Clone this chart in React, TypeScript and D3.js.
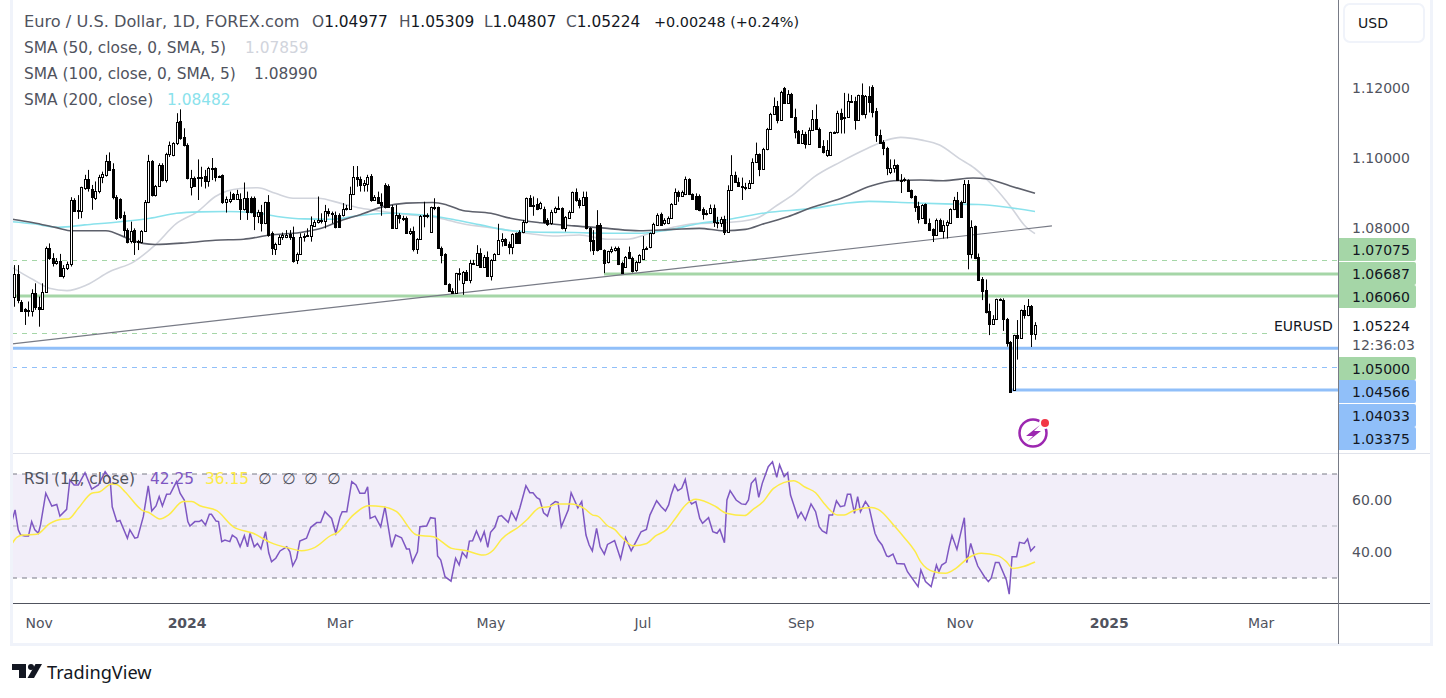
import React from "react";
import * as d3 from "d3";

type Bar = [number, number, number, number];
type Pt = [number, number];

// Daily candles: open, high, low, close
const barsAutumn2023: Bar[] = [
[1.0604,1.0694,1.0575,1.0668],[1.0668,1.0694,1.0585,1.0594],[1.0590,1.0594,1.0561,1.0564],[1.0568,1.0571,1.0523,1.0564],[1.0566,1.0590,1.0547,1.0566],
[1.0564,1.0625,1.0547,1.0613],[1.0613,1.0642,1.0566,1.0575],[1.0575,1.0604,1.0518,1.0568],[1.0568,1.0642,1.0566,1.0618],[1.0618,1.0747,1.0616,1.0744],
[1.0744,1.0756,1.0709,1.0715],[1.0715,1.0728,1.0690,1.0699],[1.0699,1.0714,1.0695,1.0706],[1.0706,1.0726,1.0661,1.0664],[1.0664,1.0694,1.0656,1.0685],
[1.0685,1.0704,1.0680,1.0696],[1.0696,1.0888,1.0690,1.0880],[1.0880,1.0885,1.0847,1.0850],[1.0852,1.0894,1.0826,1.0849],[1.0850,1.0918,1.0828,1.0916],
[1.0913,1.0952,1.0909,1.0939],[1.0939,1.0966,1.0904,1.0913],[1.0912,1.0923,1.0852,1.0888],[1.0885,1.0933,1.0880,1.0906],[1.0906,1.0952,1.0899,1.0947],
[1.0947,1.0961,1.0928,1.0954],[1.0952,1.1009,1.0947,1.0992],[1.0992,1.1016,1.0964,1.0966],[1.0968,1.0985,1.0882,1.0888],[1.0888,1.0894,1.0823,1.0828],
[1.0883,1.0885,1.0826,1.0831],[1.0837,1.0847,1.0775,1.0794],[1.0794,1.0799,1.0756,1.0761],[1.0763,1.0818,1.0756,1.0792],[1.0794,1.0799,1.0723,1.0761],
[1.0761,1.0766,1.0737,1.0763],[1.0761,1.0794,1.0756,1.0792],[1.0792,1.0880,1.0790,1.0873],[1.0873,1.1009,1.0871,1.0992],[1.0992,1.0994,1.0890,1.0893],
[1.0893,1.0923,1.0890,1.0921],[1.0921,1.0985,1.0918,1.0980],[1.0980,1.0985,1.0933,1.0937],[1.0937,1.1015,1.0930,1.1012],[1.1012,1.1047,1.1003,1.1037],
[1.1010,1.1045,1.1005,1.1042],[1.1042,1.1128,1.1037,1.1104],[1.1106,1.1139,1.1052,1.1056],[1.1061,1.1085,1.1033,1.1037],[1.1037,1.1042,1.0939,1.0942],
];
const barsEarly2024: Bar[] = [
[1.0918,1.0966,1.0893,1.0944],[1.0944,1.0947,1.0918,1.0920],[1.0944,1.0996,1.0880,1.0947],[1.0942,1.0975,1.0918,1.0947],[1.0949,1.0966,1.0913,1.0933],
[1.0933,1.0975,1.0918,1.0971],[1.0971,1.1000,1.0937,1.0972],[1.0971,1.0973,1.0933,1.0947],[1.0947,1.0950,1.0943,1.0949],[1.0952,1.0953,1.0869,1.0875],
[1.0873,1.0890,1.0844,1.0882],[1.0876,1.0904,1.0871,1.0882],[1.0896,1.0900,1.0880,1.0883],[1.0882,1.0909,1.0880,1.0896],[1.0883,1.0899,1.0823,1.0853],
[1.0853,1.0930,1.0850,1.0885],[1.0885,1.0904,1.0823,1.0845],[1.0885,1.0890,1.0842,1.0847],[1.0885,1.0890,1.0794,1.0833],[1.0834,1.0852,1.0814,1.0845],
[1.0845,1.0866,1.0790,1.0813],[1.0813,1.0875,1.0811,1.0873],[1.0873,1.0894,1.0775,1.0780],[1.0785,1.0790,1.0723,1.0742],[1.0740,1.0758,1.0723,1.0754],
[1.0754,1.0780,1.0752,1.0773],[1.0773,1.0787,1.0766,1.0780],[1.0775,1.0794,1.0771,1.0780],[1.0783,1.0794,1.0766,1.0775],[1.0773,1.0804,1.0701,1.0706],
[1.0708,1.0730,1.0697,1.0726],[1.0726,1.0785,1.0723,1.0773],[1.0773,1.0785,1.0761,1.0777],[1.0780,1.0799,1.0775,1.0781],[1.0778,1.0833,1.0761,1.0809],
[1.0807,1.0823,1.0804,1.0816],[1.0816,1.0890,1.0813,1.0823],[1.0822,1.0842,1.0813,1.0823],[1.0821,1.0866,1.0799,1.0850],[1.0850,1.0856,1.0833,1.0842],
[1.0839,1.0847,1.0813,1.0842],[1.0837,1.0847,1.0799,1.0804],[1.0837,1.0842,1.0800,1.0804],[1.0837,1.0871,1.0833,1.0853],[1.0853,1.0866,1.0850,1.0856],
[1.0854,1.0918,1.0852,1.0896],[1.0896,1.0977,1.0894,1.0947],[1.0947,1.0977,1.0918,1.0939],
];
const barsSpring2024: Bar[] = [
[1.0939,1.0947,1.0904,1.0923],[1.0923,1.0937,1.0904,1.0928],[1.0926,1.0952,1.0904,1.0947],[1.0949,1.0954,1.0875,1.0880],[1.0880,1.0894,1.0878,1.0888],
[1.0888,1.0904,1.0869,1.0871],[1.0875,1.0899,1.0835,1.0866],[1.0923,1.0928,1.0856,1.0859],[1.0920,1.0925,1.0858,1.0861],[1.0861,1.0866,1.0798,1.0799],
[1.0799,1.0866,1.0797,1.0837],[1.0837,1.0842,1.0813,1.0828],[1.0826,1.0835,1.0820,1.0828],[1.0828,1.0833,1.0785,1.0787],[1.0785,1.0799,1.0780,1.0792],
[1.0792,1.0804,1.0733,1.0739],[1.0739,1.0771,1.0726,1.0768],[1.0768,1.0837,1.0766,1.0835],[1.0835,1.0875,1.0802,1.0836],[1.0836,1.0842,1.0828,1.0835],
[1.0790,1.0861,1.0788,1.0859],[1.0859,1.0885,1.0851,1.0856],[1.0859,1.0861,1.0740,1.0742],[1.0742,1.0747,1.0699,1.0723],[1.0726,1.0728,1.0637,1.0639],
[1.0639,1.0642,1.0618,1.0621],[1.0621,1.0628,1.0612,1.0613],[1.0613,1.0672,1.0612,1.0671],[1.0671,1.0685,1.0650,1.0669],[1.0642,1.0677,1.0609,1.0675],
[1.0675,1.0680,1.0650,1.0652],[1.0652,1.0709,1.0642,1.0699],[1.0699,1.0709,1.0695,1.0700],[1.0695,1.0751,1.0692,1.0728],[1.0728,1.0742,1.0688,1.0690],
[1.0690,1.0723,1.0688,1.0718],[1.0718,1.0733,1.0661,1.0664],[1.0664,1.0711,1.0650,1.0709],[1.0709,1.0728,1.0707,1.0726],[1.0725,1.0812,1.0723,1.0766],
[1.0764,1.0785,1.0747,1.0768],[1.0768,1.0771,1.0749,1.0752],[1.0754,1.0761,1.0725,1.0747],[1.0745,1.0785,1.0725,1.0783],[1.0785,1.0787,1.0756,1.0758],
[1.0790,1.0794,1.0756,1.0758],[1.0788,1.0823,1.0785,1.0818],[1.0816,1.0887,1.0813,1.0885],[1.0885,1.0894,1.0861,1.0864],[1.0864,1.0890,1.0835,1.0865],
];
const barsSummer2024: Bar[] = [
[1.0868,1.0885,1.0851,1.0854],[1.0856,1.0875,1.0853,1.0871],[1.0854,1.0861,1.0813,1.0818],[1.0823,1.0828,1.0806,1.0812],[1.0813,1.0852,1.0809,1.0845],
[1.0845,1.0861,1.0842,1.0856],[1.0856,1.0890,1.0852,1.0857],[1.0856,1.0859,1.0796,1.0799],[1.0799,1.0834,1.0790,1.0832],[1.0830,1.0850,1.0828,1.0847],
[1.0847,1.0904,1.0845,1.0902],[1.0902,1.0913,1.0875,1.0880],[1.0880,1.0885,1.0856,1.0866],[1.0866,1.0904,1.0863,1.0888],[1.0890,1.0904,1.0796,1.0799],
[1.0799,1.0802,1.0733,1.0764],[1.0766,1.0794,1.0723,1.0737],[1.0809,1.0851,1.0733,1.0737],[1.0809,1.0814,1.0737,1.0739],[1.0737,1.0739,1.0671,1.0701],
[1.0702,1.0735,1.0699,1.0733],[1.0735,1.0747,1.0728,1.0739],[1.0737,1.0747,1.0733,1.0742],[1.0744,1.0747,1.0694,1.0697],[1.0701,1.0704,1.0669,1.0671],
[1.0690,1.0720,1.0688,1.0718],[1.0731,1.0747,1.0711,1.0714],[1.0714,1.0718,1.0673,1.0678],[1.0680,1.0706,1.0675,1.0704],[1.0702,1.0725,1.0699,1.0723],
[1.0712,1.0777,1.0709,1.0740],[1.0740,1.0747,1.0737,1.0744],[1.0745,1.0787,1.0742,1.0785],[1.0785,1.0815,1.0782,1.0812],[1.0809,1.0842,1.0806,1.0837],
[1.0840,1.0844,1.0806,1.0809],[1.0813,1.0828,1.0809,1.0823],[1.0813,1.0833,1.0811,1.0828],[1.0828,1.0871,1.0826,1.0869],[1.0869,1.0913,1.0866,1.0904],
[1.0904,1.0907,1.0875,1.0892],[1.0892,1.0907,1.0890,1.0904],[1.0897,1.0947,1.0894,1.0940],[1.0940,1.0942,1.0894,1.0897],[1.0897,1.0899,1.0880,1.0882],
[1.0891,1.0899,1.0851,1.0853],[1.0891,1.0896,1.0848,1.0851],[1.0853,1.0859,1.0824,1.0839],[1.0839,1.0851,1.0836,1.0844],[1.0843,1.0867,1.0840,1.0856],
[1.0856,1.0867,1.0803,1.0818],[1.0818,1.0832,1.0799,1.0813],[1.0813,1.0832,1.0803,1.0825],[1.0825,1.0835,1.0780,1.0789],[1.0789,1.0922,1.0786,1.0908],
[1.0908,1.1008,1.0906,1.0951],[1.0951,1.0961,1.0929,1.0932],[1.0932,1.0944,1.0918,1.0920],[1.0921,1.0944,1.0880,1.0916],[1.0916,1.0929,1.0908,1.0917],
[1.0915,1.0937,1.0912,1.0929],[1.0929,1.0999,1.0927,1.0989],[1.0989,1.1044,1.0986,1.1011],[1.1011,1.1013,1.0948,1.0970],[1.0970,1.1029,1.0967,1.1027],
[1.1025,1.1086,1.1022,1.1084],[1.1084,1.1129,1.1081,1.1127],[1.1127,1.1173,1.1125,1.1148],[1.1148,1.1163,1.1099,1.1108],[1.1108,1.1192,1.1106,1.1189],
];
const barsAutumn2024: Bar[] = [
[1.1199,1.1203,1.1156,1.1158],[1.1158,1.1194,1.1156,1.1182],[1.1182,1.1186,1.1115,1.1118],[1.1118,1.1141,1.1056,1.1075],[1.1077,1.1080,1.1041,1.1043],
[1.1043,1.1080,1.1041,1.1070],[1.1070,1.1075,1.1027,1.1041],[1.1041,1.1087,1.1040,1.1081],[1.1081,1.1137,1.1080,1.1111],[1.1111,1.1153,1.1081,1.1084],
[1.1084,1.1087,1.1030,1.1032],[1.1034,1.1051,1.1013,1.1018],[1.1008,1.1051,1.1003,1.1022],[1.1010,1.1075,1.1007,1.1073],[1.1073,1.1076,1.1070,1.1074],
[1.1073,1.1135,1.1070,1.1130],[1.1130,1.1141,1.1070,1.1111],[1.1113,1.1186,1.1070,1.1118],[1.1118,1.1184,1.1116,1.1162],[1.1162,1.1180,1.1159,1.1163],
[1.1162,1.1175,1.1081,1.1108],[1.1108,1.1181,1.1106,1.1180],[1.1180,1.1213,1.1122,1.1127],[1.1127,1.1180,1.1113,1.1177],[1.1177,1.1205,1.1130,1.1161],
[1.1203,1.1208,1.1116,1.1132],[1.1134,1.1143,1.1046,1.1067],[1.1067,1.1081,1.1041,1.1043],[1.1046,1.1051,1.1008,1.1029],[1.1030,1.1032,1.0951,1.0972],
[1.0961,1.0996,1.0954,1.0972],[1.0972,1.0996,1.0958,1.0980],[1.0980,1.0982,1.0935,1.0937],[1.0937,1.0954,1.0900,1.0938],[1.0939,1.0944,1.0932,1.0937],
[1.0937,1.0939,1.0903,1.0906],[1.0908,1.0910,1.0884,1.0889],[1.0891,1.0893,1.0846,1.0861],[1.0862,1.0875,1.0813,1.0827],[1.0830,1.0868,1.0827,1.0865],
[1.0868,1.0870,1.0811,1.0813],[1.0813,1.0827,1.0792,1.0794],[1.0797,1.0799,1.0760,1.0780],[1.0780,1.0827,1.0778,1.0824],[1.0824,1.0827,1.0789,1.0791],
[1.0791,1.0822,1.0770,1.0810],[1.0808,1.0822,1.0770,1.0816],[1.0815,1.0856,1.0813,1.0853],[1.0853,1.0889,1.0851,1.0881],[1.0881,1.0903,1.0830,1.0832],
[1.0875,1.0878,1.0829,1.0832],[1.0875,1.0937,1.0873,1.0927],[1.0927,1.0937,1.0682,1.0727],[1.0727,1.0822,1.0713,1.0803],[1.0805,1.0807,1.0711,1.0713],
[1.0716,1.0727,1.0649,1.0651],[1.0653,1.0660,1.0594,1.0621],[1.0622,1.0653,1.0556,1.0560],[1.0562,1.0584,1.0494,1.0525],[1.0527,1.0551,1.0524,1.0539],
[1.0539,1.0598,1.0537,1.0596],[1.0596,1.0599,1.0592,1.0597],[1.0594,1.0599,1.0506,1.0541],[1.0541,1.0543,1.0461,1.0472],[1.0475,1.0477,1.0329,1.0332],
[1.0337,1.0495,1.0335,1.0494],[1.0494,1.0537,1.0424,1.0486],[1.0486,1.0567,1.0484,1.0565],[1.0565,1.0580,1.0541,1.0551],[1.0551,1.0597,1.0548,1.0577],
[1.0577,1.0580,1.0460,1.0496],[1.04977,1.05309,1.04807,1.05224],
];

// Moving averages: [bar number, price]
const sma50: Pt[] = [[-0.5,1.0687],[5.5,1.0652],[10,1.0628],[15,1.0621],[20.5,1.0637],[27,1.0675],[34,1.0704],[40,1.0752],[46,1.0813],[52,1.0847],[57,1.089],[64,1.0913],[69,1.0915],[74,1.0899],[79,1.0885],[86,1.0885],[93,1.0869],[98,1.0857],[104.5,1.0847],[111,1.0839],[120.5,1.0828],[127,1.0812],[136.5,1.0799],[145,1.0785],[152.5,1.0777],[160,1.078],[168,1.0768],[173.5,1.0768],[180,1.0785],[186.5,1.0802],[193,1.0813],[201,1.0815],[210,1.0827],[216,1.0865],[221,1.0899],[226.5,1.0946],[234,1.0989],[241.5,1.1027],[247,1.1051],[251,1.1059],[257,1.1051],[262,1.1037],[267.5,1.0999],[272,1.097],[277,1.0922],[282.5,1.0856],[286,1.0808],[289,1.0784]];
const sma100: Pt[] = [[-0.5,1.0825],[5.5,1.0815],[12,1.0801],[16.5,1.0792],[26,1.0792],[32,1.0771],[36.5,1.0756],[40,1.0753],[49,1.0758],[57,1.0765],[65,1.0768],[72.5,1.078],[81,1.0787],[87,1.0799],[93,1.0823],[98,1.0838],[104.5,1.0861],[111,1.0871],[118.5,1.0873],[122.5,1.0866],[127,1.085],[135,1.0842],[140.5,1.0828],[149,1.0815],[158.5,1.0806],[168,1.0799],[177,1.0792],[186.5,1.0796],[194,1.0799],[201,1.0792],[207,1.0796],[212.5,1.0813],[219,1.0832],[226,1.0859],[234,1.0884],[242.5,1.092],[249,1.0935],[256.5,1.0937],[263,1.0935],[271.5,1.0943],[275.5,1.094],[282,1.092],[289,1.0899]];
const sma200: Pt[] = [[-0.5,1.0818],[5.5,1.0812],[12.5,1.0802],[20,1.0809],[30,1.0818],[38.5,1.0828],[46,1.0842],[52.5,1.0846],[60,1.0847],[68,1.0844],[74.5,1.0833],[82,1.0826],[90,1.0825],[98,1.0836],[106,1.0842],[113,1.0839],[119.5,1.0833],[125,1.0823],[132,1.0809],[139.5,1.0794],[149,1.0788],[158.5,1.0787],[168,1.0785],[177.5,1.0785],[185,1.0794],[194,1.0813],[202.5,1.0825],[212.5,1.0843],[226,1.0856],[235,1.087],[242,1.0876],[254,1.0872],[263.5,1.0869],[273,1.0867],[280.5,1.086],[289,1.0847]];
const trendline: Pt[] = [[-0.5,1.0469],[293.8,1.0806]];

// RSI: [bar number, value]
const rsiPart1: Pt[] = [[-0.6,51.7],[0.3,56.2],[1.2,48.5],[1.9,46.5],[3.1,46.2],[4.1,46.2],[5,51.7],[5.9,48.5],[6.9,47.2],[7.5,50.4],[9,62.6],[10.7,57.7],[12.1,58.3],[13,53.8],[14.9,56.4],[15.8,67.7],[17,65.8],[18.2,65.8],[20.1,70.5],[22,64.2],[23.9,65.8],[25.8,70.9],[27.2,68.3],[27.8,57.4],[29.1,51.7],[30,52.1],[32.1,45.3],[32.8,48.5],[34.2,45.3],[35,45.6],[36.6,53.6],[38,65.4],[39,55.8],[40.2,57.7],[41.1,61.3],[42,57.7],[43.2,62.2],[44.2,62.3],[46,67.1],[47,62.6],[48.2,60],[49.2,51.7],[49.8,50],[51.2,51.7],[52.4,51.7],[53.1,52.3],[54.2,50.4],[55.3,54.5],[55.9,54.5],[57.2,51.9],[57.9,51.7],[58.8,44],[59.7,44.6],[61.1,44],[61.8,46.5],[63,45.3],[64,42],[65.2,46.3],[66.1,42],[66.8,47.2],[68,42],[68.9,43.3],[69.9,41.2],[71.2,47.8],[72.1,39.7],[72.9,36.3],[74.1,37.6],[75.3,40.4],[77.2,42],[78.1,40.1],[78.9,34.7],[80,37.6],[80.9,44.2],[82.8,45.3],[84,49.5],[85.7,51.3],[86.8,51.3],[88,55.5],[89.9,52.9],[91.1,47.2],[92.3,53.6],[92.9,55.5],[94.2,55.5],[95.6,67.1],[96.8,65.8],[97.9,62.6],[99.3,62.6],[100.1,65.1],[100.8,52.9],[102.2,53.8],[103.8,49.7],[105,57.4],[106.9,41.8],[108,46.5],[109.7,45.5],[111.1,41.2],[111.9,41.2],[112.8,36],[114.2,40.1],[114.9,49.7],[116.8,50],[117.9,53.2],[119.2,52.9],[119.9,38.5],[120.8,36.9],[122,30.5],[123.7,28.8],[125,37.6],[126,35],[126.9,39.9],[128.1,37.9],[128.9,44.2],[129.8,44.3],[130.9,48.1],[132.1,44.2],[133.1,47.8],[134.1,41.8],[134.9,47.6],[136.1,49.5],[137.1,53.6],[138,54],[139.9,51.4],[140.8,55.5],[142.1,52.3],[143.2,57]];
const rsiPart2: Pt[] = [[144.9,65.5],[146,62.8],[146.9,62.8],[148,60.9],[148.8,60.3],[149.9,55.1],[151,53.8],[152,58.1],[153.2,59.4],[154,59.1],[154.9,49.7],[156.9,56.2],[157.7,62.8],[159.6,57],[160.7,59.4],[161.9,46.5],[162.8,42.7],[163.7,40.4],[164.9,49.1],[165.9,42],[167.1,39.2],[168,42.9],[170,44.4],[171.7,37.3],[173.1,45.5],[174.7,40.5],[176.3,44.6],[177.5,47.8],[179,48.7],[180,54.2],[181.9,59.7],[183.2,57.4],[184.4,55.8],[185.3,58.1],[186,61.9],[187,65.8],[187.9,63.6],[189,64.5],[190,67.9],[191.1,60],[191.8,58.5],[193,59.4],[194.1,52.9],[194.9,51],[196.6,53.2],[197.8,47.8],[199,47.2],[199.8,48.7],[201.1,43.6],[201.8,60],[202.7,63.6],[204.4,60],[205.9,58.5],[207.1,58.3],[207.9,60],[208.7,66.4],[209.9,68.3],[210.8,61],[211.8,66.4],[213.5,72.8],[214.7,74.7],[215.9,68.7],[216.7,73.5],[218,69],[219,70.5],[219.8,61.9],[221.9,53.2],[222.8,55.3],[224,52.3],[225.6,58.5],[226.9,55.5],[227.9,49.7],[228.8,48.1],[230,47.2],[230.7,54.2],[231.7,54.2],[232.8,59.7],[233.9,57.4],[235.1,57.8],[235.9,62.2],[236.8,62.2],[237.9,54.9],[238.8,61.3],[239.6,55.5],[241,59.4],[242,57.4],[243.7,47.2],[244.6,44.6],[245.7,42.7],[247,38.5],[247.6,38.2],[248.8,39.2],[249.9,35.6],[252,35.4],[252.9,32.4],[255.9,26.7],[256.7,33.1],[258,28.6],[259.6,26.7],[261.1,35],[261.8,32.4],[262.6,35],[263.8,36],[264.7,42],[265.5,46.3],[266.9,41],[269,53.2],[269.7,35.9],[270.8,43.3],[271.9,38.2],[272.8,34.6],[274.7,30.5],[275.8,28.6],[276.6,29.9],[277.8,36],[278.8,36],[280.9,29.2],[281.7,23.8],[282.5,38.2],[283.8,38.2],[284.6,43.7],[286,43.3],[286.9,45],[287.8,40.4],[289,42.25]];
const rsiSmaPart1: Pt[] = [[-0.6,43.1],[0.8,45.6],[2.6,46.5],[6.4,46.8],[10.2,51],[13.5,52.6],[15.4,52.7],[18.2,56.8],[22,62.6],[24.3,63.2],[27.6,66.2],[29.1,66],[31.4,63.2],[36.6,55.8],[38,55.3],[41.3,52.7],[43.7,54.2],[47.9,59.4],[50.3,59.4],[52.6,57.8],[57.4,55.9],[62.1,49.7],[67.7,47.2],[72.5,43.7],[78.1,41.4],[81.4,40.5],[85.2,41.8],[89.9,46.5],[91.3,47.2],[96,54.2],[100.3,57.8],[104.5,57.4],[108.3,55.5],[114,46.5],[118.7,45.9],[123.9,41.4],[128.1,40.5],[132.8,38.8],[135.7,40.8],[138,44.9],[143.2,50]];
const rsiSmaPart2: Pt[] = [[145.1,52.3],[148.9,57.1],[151.3,57.4],[153.7,58.5],[157.6,58.5],[161.4,56.8],[163.8,54.2],[165.2,53.8],[168.1,50],[170,48.7],[171.9,45.9],[175.3,42.4],[179.1,43.3],[181.5,46.1],[184.8,48.7],[187.2,52.9],[190.1,58.1],[193,60.3],[198.7,57.4],[201.6,54.9],[206.8,54],[209.2,56.4],[212.1,59.4],[215,64.5],[220.7,67.4],[224,64.9],[226.9,62.8],[229.3,58.7],[233.1,54.2],[235,54.2],[237.4,55.8],[242.7,57.1],[244.6,56.4],[249.4,49.7],[251.8,45.9],[255.1,40.1],[256.6,36.3],[260.4,32.4],[263.7,31.8],[266.6,33.7],[270,37.6],[273.8,39.5],[278.6,38.5],[280.9,36.3],[282.7,33.7],[285.7,34.4],[289,36.15]];

// Horizontal levels
const greenSolid = [1.06687, 1.0606];
const greenDashed = [1.07075, 1.05];
const blueSolid = [1.04566, 1.03375];
const blueDashed = [1.04033];
const priceTicks = [1.12, 1.1, 1.08];
const rsiTicks = [60, 40];
const rsiBands = [70, 30];
const rsiMid = 50;
const timeTickBars = [7.1, 49, 92.3, 135, 178, 222.8, 267.8, 310, 353];
const timeTickLabels = ["Nov", "2024", "Mar", "May", "Jul", "Sep", "Nov", "2025", "Mar"];
const greenTags = ["1.07075", "1.06687", "1.06060", "1.05000"];
const blueTags = ["1.04566", "1.04033", "1.03375"];

const bars: Bar[] = [...barsAutumn2023, ...barsEarly2024, ...barsSpring2024, ...barsSummer2024, ...barsAutumn2024];
const rsi = [...rsiPart1, ...rsiPart2];
const rsiSma = [...rsiSmaPart1, ...rsiSmaPart2];

const FONT = "'DejaVu Sans', sans-serif";
const GREEN = "#a5d6a7";
const BLUE = "#90bff9";
const INK = "#131722";
const GREY = "#50535e";
const PLOT_L = 12;
const PLOT_R = 1338;

const x = d3.scaleLinear().domain([0, 289]).range([14, 1035]);
const y = d3.scaleLinear().domain([1.12, 1.1]).range([88, 158]);
const yRsi = d3.scaleLinear().domain([70, 30]).range([474, 578]);

const priceLine = d3.line<Pt>().x((d) => x(d[0])).y((d) => y(d[1])).curve(d3.curveMonotoneX);
const rsiLine = d3.line<Pt>().x((d) => x(d[0])).y((d) => yRsi(d[1]));
const smoothRsiLine = d3.line<Pt>().x((d) => x(d[0])).y((d) => yRsi(d[1])).curve(d3.curveMonotoneX);

const greenTagTops = [238, 262, 285, 357];
const blueTagTops = [380, 404, 427];

function Tag({ top, fill, label }: { top: number; fill: string; label: string }) {
  return (
    <g>
      <path d={`M1339 ${top}h75a2 2 0 0 1 2 2v19a2 2 0 0 1 -2 2h-75z`} fill={fill} />
      <text x={1352} y={top + 16.5} fontSize={14} fill={INK}>{label}</text>
    </g>
  );
}

export default function App() {
  return (
    <svg width={1446} height={698} viewBox="0 0 1446 698" fontFamily={FONT}
      style={{ position: "absolute", left: 0, top: 0, display: "block", background: "#fff" }}>
      {/* levels */}
      {greenDashed.map((v) => (
        <line key={v} x1={PLOT_L} x2={v === 1.05 ? 1268 : PLOT_R} y1={Math.round(y(v)) + 0.5} y2={Math.round(y(v)) + 0.5}
          stroke={GREEN} strokeDasharray="5 5" />
      ))}
      {blueDashed.map((v) => (
        <line key={v} x1={PLOT_L} x2={PLOT_R} y1={Math.round(y(v)) + 0.5} y2={Math.round(y(v)) + 0.5} stroke={BLUE} strokeDasharray="5 5" />
      ))}
      {greenSolid.map((v) => (
        <line key={v} x1={v === 1.06687 ? x(167) : PLOT_L} x2={PLOT_R} y1={y(v)} y2={y(v)} stroke={GREEN} strokeWidth={3} />
      ))}
      {blueSolid.map((v) => (
        <line key={v} x1={v === 1.03375 ? x(281.8) : PLOT_L} x2={PLOT_R} y1={y(v)} y2={y(v)} stroke={BLUE} strokeWidth={3} />
      ))}

      {/* moving averages and trendline */}
      <path d={priceLine(sma50)!} fill="none" stroke="#d1d4dc" strokeWidth={1.6} />
      <path d={priceLine(sma200)!} fill="none" stroke="#8ae2ec" strokeWidth={1.6} />
      <path d={priceLine(sma100)!} fill="none" stroke="#5d606b" strokeWidth={1.6} />
      <path d={d3.line<Pt>().x((d) => x(d[0])).y((d) => y(d[1]))(trendline)!} fill="none" stroke="#787b86" strokeWidth={1.2} />

      {/* candles */}
      {bars.map(([o, h, l, c], i) => {
        const left = Math.round(x(i)) - 0.5;
        const top = Math.round(y(Math.max(o, c))) + 0.5;
        const bottom = Math.round(y(Math.min(o, c))) + 0.5;
        const up = c >= o;
        return (
          <g key={i}>
            <line x1={left + 1} x2={left + 1} y1={y(h)} y2={y(l)} stroke="#000" />
            <rect x={left} y={top} width={2} height={Math.max(bottom - top, 1)} fill={up ? "#fff" : "#000"} stroke="#000" />
          </g>
        );
      })}

      {/* price axis */}
      {priceTicks.map((t) => (
        <text key={t} x={1352} y={y(t) + 5} fontSize={14} fill={GREY}>{t.toFixed(5)}</text>
      ))}
      {greenTags.map((t, i) => <Tag key={t} top={greenTagTops[i]} fill={GREEN} label={t} />)}
      {blueTags.map((t, i) => <Tag key={t} top={blueTagTops[i]} fill={BLUE} label={t} />)}
      <text x={1274} y={331} fontSize={14} fill={INK}>EURUSD</text>
      <text x={1352} y={331} fontSize={14} fill={INK}>1.05224</text>
      <text x={1352} y={350} fontSize={14} fill={GREY}>12:36:03</text>

      {/* USD button */}
      <rect x={1344} y={4} width={80} height={38} rx={6} fill="#fff" stroke="#f0f3fa" strokeWidth={2} />
      <text x={1358} y={28} fontSize={14} fill={INK}>USD</text>

      {/* lightning badge */}
      <circle cx={1033} cy={433} r={13.5} fill="none" stroke="#9c27b0" strokeWidth={2.5} />
      <circle cx={1045} cy={423} r={6} fill="#fff" />
      <circle cx={1045} cy={423} r={4} fill="#f23645" />
      <path d="M1040 425 L1026 436 L1033 436 L1027 442 L1041 431 L1034 431 Z" fill="#9c27b0" />

      {/* RSI pane */}
      <rect x={PLOT_L} width={PLOT_R - PLOT_L} y={yRsi(70)} height={yRsi(30) - yRsi(70)} fill="#7e57c2" fillOpacity={0.1} />
      {rsiBands.map((v) => (
        <line key={v} x1={PLOT_L} x2={PLOT_R} y1={yRsi(v)} y2={yRsi(v)} stroke="#787b86" strokeDasharray="5 5" />
      ))}
      <line x1={PLOT_L} x2={PLOT_R} y1={yRsi(rsiMid)} y2={yRsi(rsiMid)} stroke="#b2b5be" strokeDasharray="5 5" />
      <path d={rsiLine(rsi)!} fill="none" stroke="#7e57c2" strokeWidth={1.5} />
      <path d={smoothRsiLine(rsiSma)!} fill="none" stroke="#fdeb47" strokeWidth={1.5} />
      {rsiTicks.map((t) => (
        <text key={t} x={1352} y={yRsi(t) + 5} fontSize={14} fill={GREY}>{t.toFixed(2)}</text>
      ))}

      {/* frame */}
      <line x1={PLOT_L} x2={1431} y1={453.5} y2={453.5} stroke="#e0e3eb" strokeWidth={1} />
      <line x1={PLOT_L} x2={1431} y1={603.5} y2={603.5} stroke="#50535e" strokeWidth={1} />
      <line x1={11.5} x2={11.5} y1={0} y2={645} stroke="#f0f3fa" strokeWidth={3} />
      <line x1={1431.5} x2={1431.5} y1={0} y2={645} stroke="#f0f3fa" strokeWidth={3} />
      <line x1={10} x2={1433} y1={644.5} y2={644.5} stroke="#f0f3fa" strokeWidth={3} />
      <line x1={1338.5} x2={1338.5} y1={0} y2={644} stroke="#787b86" strokeWidth={1} />

      {/* time axis */}
      {timeTickBars.map((b, i) => (
        <text key={i} x={x(b)} y={628} fontSize={14} textAnchor="middle"
          fontWeight={timeTickLabels[i].length === 4 ? 700 : 400} fill={GREY}>{timeTickLabels[i]}</text>
      ))}

      {/* legends */}
      <g fontSize={15.4} fill={GREY}>
        <text x={24} y={26.5} fontSize={16.2}>Euro / U.S. Dollar, 1D, FOREX.com</text>
        <text x={312} y={26.5}>O<tspan fill={INK}>1.04977</tspan></text>
        <text x={399} y={26.5}>H<tspan fill={INK}>1.05309</tspan></text>
        <text x={484} y={26.5}>L<tspan fill={INK}>1.04807</tspan></text>
        <text x={566} y={26.5}>C<tspan fill={INK}>1.05224</tspan></text>
        <text x={654} y={26.5} fontSize={14.4} fill={INK}>+0.00248 (+0.24%)</text>
        <text x={24} y={52.5}>SMA (50, close, 0, SMA, 5)</text>
        <text x={245} y={52.5} fill="#d1d4dc">1.07859</text>
        <text x={24} y={78.5}>SMA (100, close, 0, SMA, 5)</text>
        <text x={254} y={78.5}>1.08990</text>
        <text x={24} y={104.5}>SMA (200, close)</text>
        <text x={167} y={104.5} fill="#8ae2ec">1.08482</text>
        <text x={24} y={483.5}>RSI (14, close)</text>
        <text x={150} y={483.5} fill="#7e57c2">42.25</text>
        <text x={205} y={483.5} fill="#fdeb47">36.15</text>
        <text x={265} y={483.5} textAnchor="middle">∅</text>
        <text x={289} y={483.5} textAnchor="middle">∅</text>
        <text x={311} y={483.5} textAnchor="middle">∅</text>
        <text x={334} y={483.5} textAnchor="middle">∅</text>
      </g>

      {/* TradingView mark */}
      <path d="M12 664h14v14h-7v-8h-7z" fill={INK} />
      <circle cx={31} cy={667} r={3} fill={INK} />
      <path d="M35.5 664h6.5l-8 14h-6.5z" fill={INK} />
      <text x={47} y={679} fontSize={18.2} fontFamily="'Noto Sans', sans-serif" fill={INK}>TradingView</text>
    </svg>
  );
}
